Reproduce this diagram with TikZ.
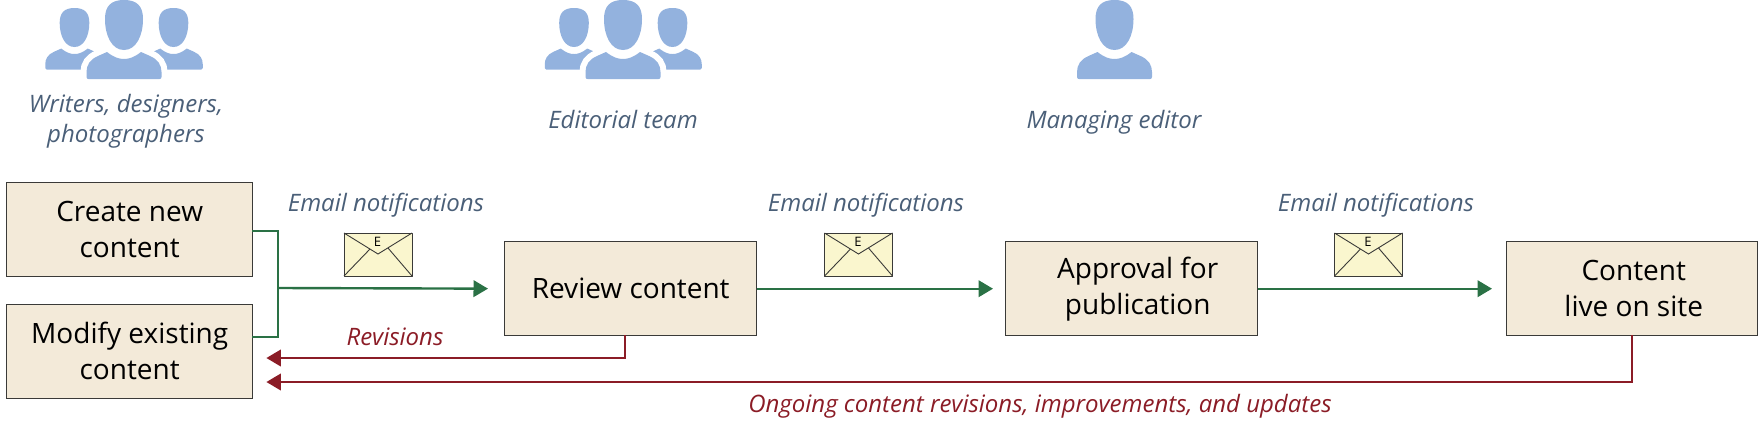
\documentclass[tikz,border=0pt]{standalone}
\usepackage{fontspec}
\setmainfont{Open Sans}
\usetikzlibrary{arrows.meta}
\definecolor{boxfill}{HTML}{F3EAD9}
\definecolor{boxline}{HTML}{3A3A38}
\definecolor{flowgreen}{HTML}{2A7145}
\definecolor{flowred}{HTML}{8B1C26}
\definecolor{slate}{HTML}{4A5F78}
\definecolor{iconblue}{HTML}{93B2DE}
\definecolor{envfill}{HTML}{FAF6CE}
\tikzset{
  stepbox/.style={draw=boxline,line width=1.4pt,fill=boxfill,minimum width=252pt,minimum height=94pt,inner sep=0pt,align=center,font=\fontsize{28}{36}\selectfont,anchor=north west},
  note/.style={text=slate,font=\fontsize{24}{30}\selectfont\itshape,anchor=base,inner sep=0pt,align=center},
  rednote/.style={text=flowred,font=\fontsize{24}{30}\selectfont\itshape,anchor=base,inner sep=0pt},
  gline/.style={draw=flowgreen,line width=2.4pt},
  garrow/.style={gline,-{Triangle[length=14.5pt,width=16.5pt]}},
  rarrow/.style={draw=flowred,line width=2.4pt,-{Triangle[length=14.5pt,width=16.5pt]},shorten >=13pt},
  pics/person/.style={code={
    \path[fill=iconblue,#1]
      (0,0) .. controls (13,0) and (19,6) .. (19,19)
      .. controls (19,36) and (12,50) .. (0,50)
      .. controls (-12,50) and (-19,36) .. (-19,19)
      .. controls (-19,6) and (-13,0) .. (0,0) -- cycle
      (-17,52) .. controls (-10,57.5) and (-5,59) .. (0,59)
      .. controls (5,59) and (10,57.5) .. (17,52)
      -- (26,56) .. controls (34,59.5) and (37.5,65) .. (37.5,72)
      -- (37.5,77) .. controls (37.5,78.5) and (36.5,79) .. (35.5,79)
      -- (-35.5,79) .. controls (-36.5,79) and (-37.5,78.5) .. (-37.5,77)
      -- (-37.5,72) .. controls (-37.5,65) and (-34,59.5) .. (-26,56) -- cycle;
  }},
  pics/person/.default={},
  halo/.style={preaction={draw=white,line width=12pt}},
  pics/envelope/.style={code={
    \draw[fill=envfill,draw=boxline,line width=1pt,line join=round] (0,0) rectangle (68,43);
    \draw[draw=boxline,line width=.9pt] (0,0) -- (34,21) -- (68,0) (0,43) -- (26,16) (68,43) -- (44,15);
    \node[font=\fontsize{13}{13}\selectfont,inner sep=0pt] (e) at (33.5,9) {E};
  }}
}
\begin{document}
\begin{tikzpicture}[x=1pt,y=-1pt]
\useasboundingbox (0,0) rectangle (1763,423);
% icons
\pic[scale=.78] at (74.5,8) {person};
\pic[scale=.78] at (173.5,8) {person};
\pic at (124,0) {person={halo}};
\pic[scale=.78] at (574,8) {person};
\pic[scale=.78] at (672.5,8) {person};
\pic at (623,0) {person={halo}};
\pic at (1114.5,0) {person};
% top labels
\node[note] (writers) at (126,142) {Writers, designers,\\photographers};
\node[note] (editorial) at (623,128) {Editorial team};
\node[note] (managing) at (1114,128) {Managing editor};
% boxes
\node[stepbox,minimum width=246pt] (create) at (6,181.5) {Create new\\content};
\node[stepbox,minimum width=246pt] (modify) at (6,303.5) {Modify existing\\content};
\node[stepbox] (review) at (504,241) {Review content};
\node[stepbox] (approval) at (1005,241) {\hspace*{12pt}Approval for\\\hspace*{12pt}publication};
\node[stepbox,minimum width=251pt] (live) at (1506,241) {\hspace*{3pt}Content\\\hspace*{3pt}live on site};
% green connectors
\coordinate (gA) at (252,231);
\coordinate (gB) at (252,337);
\coordinate (gJ) at (278,288);
\draw[gline,line join=miter] (gA) -| (gJ) |- (gB);
\draw[garrow,shorten >=16pt] (gJ) -- (review.west);
\draw[garrow,shorten >=12pt] (review.east) -- (approval.west);
\draw[garrow,shorten >=14pt] (approval.east) -- (live.west);
% red connectors
\coordinate (rA) at (625,335);
\coordinate (rB) at (1632,335);
\coordinate (rAc) at (625,358);
\coordinate (rBc) at (1632,382);
\draw[rarrow] (rA) -- (rAc) -- (rAc -| modify.east);
\draw[rarrow] (rB) -- (rBc) -- (rBc -| modify.east);
% notes
\node[note] (mailA) at (386,211) {Email notifications};
\node[note] (mailB) at (866,211) {Email notifications};
\node[note] (mailC) at (1376,211) {Email notifications};
\node[rednote] (revisions) at (395,345) {Revisions};
\node[rednote] (ongoing) at (1040,412) {Ongoing content revisions, improvements, and updates};
% envelopes
\pic (envA) at (344,233) {envelope};
\pic (envB) at (824.5,233) {envelope};
\pic (envC) at (1334.5,233) {envelope};
\end{tikzpicture}
\end{document}
